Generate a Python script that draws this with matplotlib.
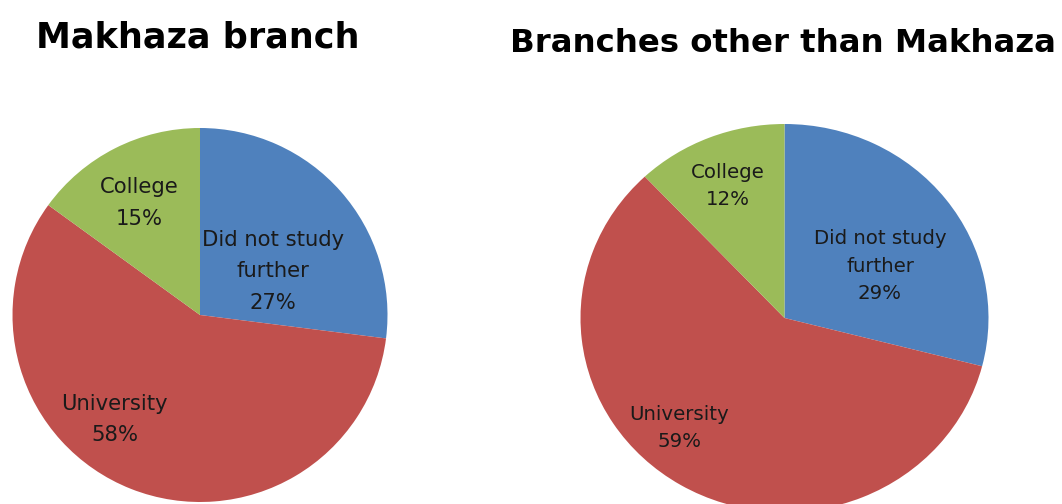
import matplotlib
matplotlib.use("Agg")
import matplotlib.pyplot as plt

categories = ["Did not study\nfurther", "University", "College"]
makhaza_values = [27, 58, 15]
other_values = [29, 59, 12]
titles = ["Makhaza branch", "Branches other than Makhaza"]
colors = ["#4F81BD", "#C0504D", "#9BBB59"]

W, H = 1062, 504
fig = plt.figure(figsize=(W / 100, H / 100), dpi=100)

# layout in pixels (top-left origin): centre, x-radius, y-radius
pies = [
    dict(values=makhaza_values, c=(200, 315), rx=187.5, ry=187, fs=15.2, ls=1.72,
         lab=[(0.39, 0.235), (-0.455, -0.56), (-0.326, 0.60)],
         title=(197.5, 48), tfs=25.2),
    dict(values=other_values, c=(784.5, 318), rx=204, ry=194, fs=14.2, ls=1.58,
         lab=[(0.468, 0.268), (-0.517, -0.567), (-0.277, 0.68)],
         title=(782.5, 52.5), tfs=23.3),
]

for p, title in zip(pies, titles):
    cx, cy = p["c"]
    rx, ry = p["rx"], p["ry"]
    ax = fig.add_axes([(cx - rx) / W, (H - cy - ry) / H, 2 * rx / W, 2 * ry / H])
    wedges, _ = ax.pie(p["values"], colors=colors, startangle=90, counterclock=False,
                       radius=1, wedgeprops=dict(linewidth=0))
    ax.set_aspect("auto")
    ax.set_xlim(-1, 1)
    ax.set_ylim(-1, 1)
    ax.axis("off")
    for w in wedges:
        w.set_clip_on(False)
    for name, v, (fx, fy) in zip(categories, p["values"], p["lab"]):
        ax.text(fx, fy, f"{name}\n{v}%", ha="center", va="center",
                multialignment="center", fontsize=p["fs"], color="#1a1a1a",
                linespacing=p["ls"])
    fig.text(p["title"][0] / W, 1 - p["title"][1] / H, title, ha="center",
             va="baseline", fontsize=p["tfs"], fontweight="bold", color="black")

fig.savefig("out.png", dpi=100)
